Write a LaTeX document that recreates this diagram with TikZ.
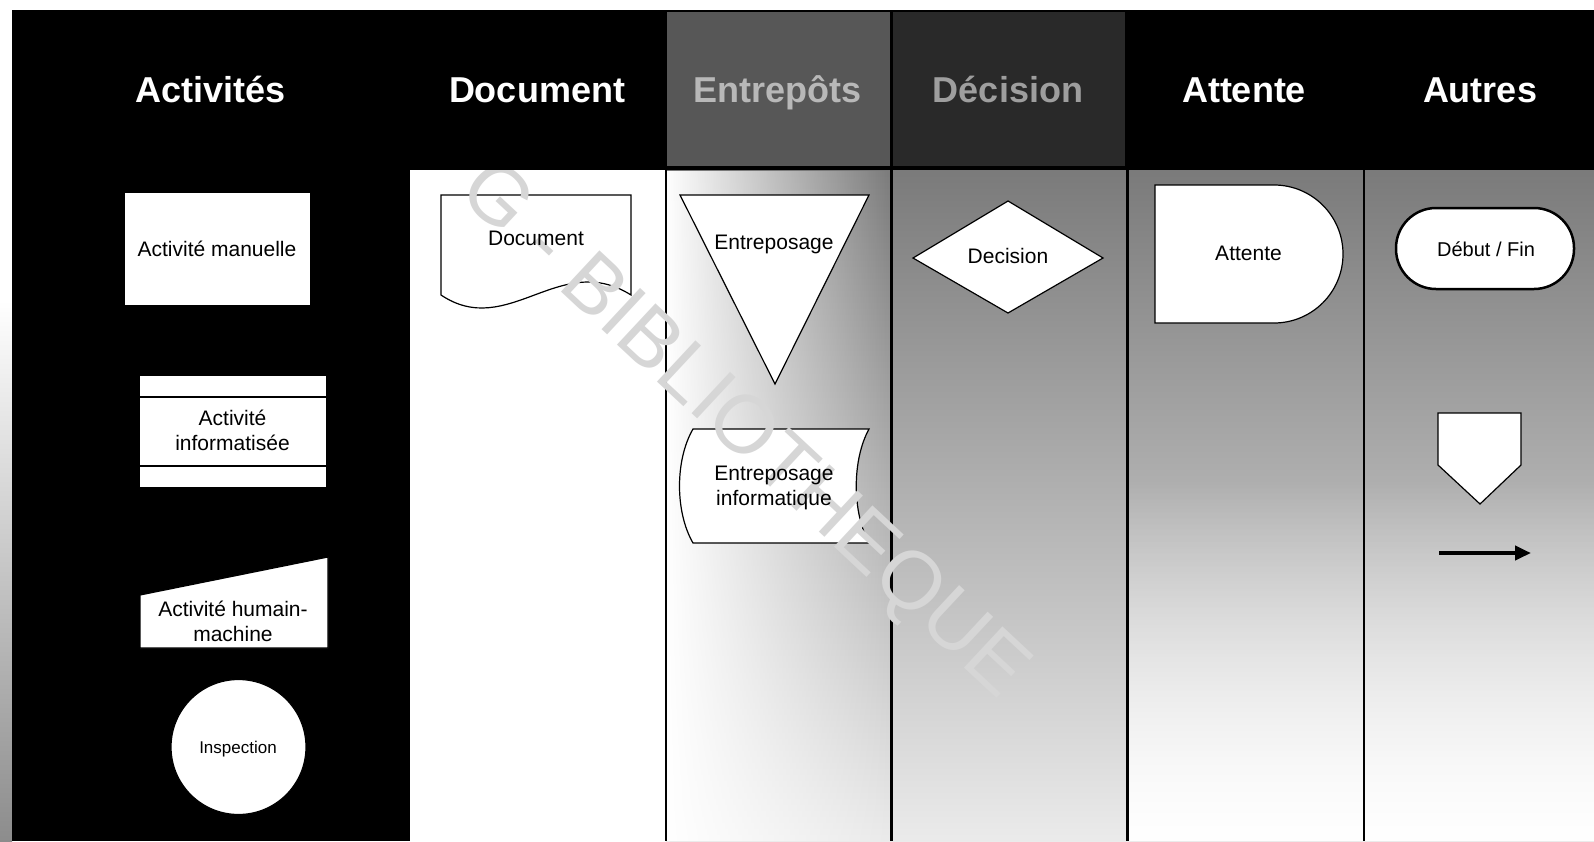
\documentclass[tikz,border=0pt]{standalone}
\usepackage{fontspec}
\setmainfont{Liberation Sans}
\usetikzlibrary{fadings,arrows.meta}
\begin{document}
\begin{tikzpicture}[x=1pt,y=-1pt,
  hdr/.style={font=\fontsize{36}{40}\selectfont\bfseries, text=white, anchor=base, inner sep=0pt},
  lbl/.style={font=\fontsize{21}{25}\selectfont, align=center, text=black, inner sep=0pt},
  lblb/.style={lbl, anchor=base},
  shp/.style={draw=black, fill=white, line width=1.2pt},
  vline/.style={draw=black, line width=2.5pt},
  wmark/.style={font=\fontsize{82}{86}\selectfont, text=black!16, rotate=-43, inner sep=0pt}
]
\useasboundingbox (0,0) rectangle (1594,841);
\fill[white] (0,0) rectangle (1594,841);
% left margin strip
\shade[top color=white, bottom color=black!45] (0,300) rectangle (12,841);
% Activites column body
\fill[black] (12,160) rectangle (410,841);
% Document column body
\fill[white] (410,170) rectangle (666,841);
% noisy grey bodies (approximated)
\shade[top color=black!52, middle color=black!42, bottom color=black!8] (666,170) rectangle (1594,841);
\fill[white, path fading=east] (666,170) rectangle (891,841);
\fill[white, path fading=north] (1128,480) rectangle (1594,841);
% column separators
\draw[vline] (666,168) -- (666,841);
\draw[vline] (891.5,168) -- (891.5,841);
\draw[vline] (1127.5,168) -- (1127.5,841);
\draw[vline] (1364,168) -- (1364,841);

% ---- shapes ----
% Activite manuelle
\draw[shp] (124,192) rectangle (311,306);
% Activite informatisee
\draw[shp] (139,375) rectangle (327,488);
\draw[black, line width=1.2pt] (139,397) -- (327,397);
\draw[black, line width=1.2pt] (139,466) -- (327,466);
% Activite humain-machine
\draw[shp] (140,595) -- (328,557) -- (328,648) -- (140,648) -- cycle;
% Inspection
\draw[shp] (238.5,747) circle (67.5pt);
% Document
\draw[shp] (441,195) -- (631,195) -- (631,295)
  .. controls (560,250) and (508,340) .. (441,295) -- cycle;
% Entreposage
\draw[shp] (680,195) -- (869,195) -- (775,384) -- cycle;
% Entreposage informatique
\draw[shp] (693,429) -- (869,429) .. controls (852,460) and (852,512) .. (869,543)
  -- (693,543) .. controls (675,512) and (675,460) .. (693,429) -- cycle;
% Decision
\draw[shp] (913,258) -- (1008,201) -- (1103,258) -- (1008,313) -- cycle;
% Attente
\draw[shp] (1155,185) -- (1274,185) arc[start angle=90, end angle=-90, radius=69pt]
  -- (1155,323) -- cycle;
% Debut / Fin
\draw[shp, line width=2.5pt, rounded corners=40pt] (1396,208) rectangle (1574,289);
% off-page connector
\draw[shp] (1438,413) -- (1521,413) -- (1521,465) -- (1480,504) -- (1438,465) -- cycle;
% arrow
\coordinate (arrS) at (1439,553);
\coordinate (arrE) at (1531,553);
\draw[line width=4pt, -{Triangle[length=16pt,width=14pt]}] (arrS) -- (arrE);

% watermark
\node[wmark] (wm) at (742,432) {G - BIBLIOTHEQUE};

% ---- header band ----
\fill[black] (12,10) rectangle (1594,170);
\fill[black!66] (667,12) rectangle (890,166);
\fill[black!84] (893,12) rectangle (1125,166);

\node[hdr] (hAct) at (210.5,102) {Activités};
\node[hdr] (hDoc) at (537,102) {Document};
\node[hdr, text=black!28] (hEnt) at (777,102) {Entrepôts};
\node[hdr, text=black!38] (hDec) at (1008,102) {Décision};
\node[hdr] (hAtt) at (1244,102) {Attente};
\node[hdr] (hAut) at (1480,102) {Autres};

% ---- labels ----
\node[lblb] (tMan) at (217,256) {Activité manuelle};
\node[lbl] (tInf) at (232.5,430) {Activité\\informatisée};
\node[lbl] (tHum) at (233,621) {Activité humain-\\machine};
\node[lblb, font=\fontsize{17}{20}\selectfont] (tIns) at (238,753) {Inspection};
\node[lblb] (tDoc) at (536,245) {Document};
\node[lblb] (tEnt) at (774,249) {Entreposage};
\node[lbl] (tEnI) at (774,488) {Entreposage\\informatique};
\node[lblb] (tDec) at (1008,263) {Decision};
\node[lblb] (tAtt) at (1248.5,260) {Attente};
\node[lblb, font=\fontsize{20}{24}\selectfont] (tDeb) at (1486,256.5) {Début / Fin};
\end{tikzpicture}
\end{document}
